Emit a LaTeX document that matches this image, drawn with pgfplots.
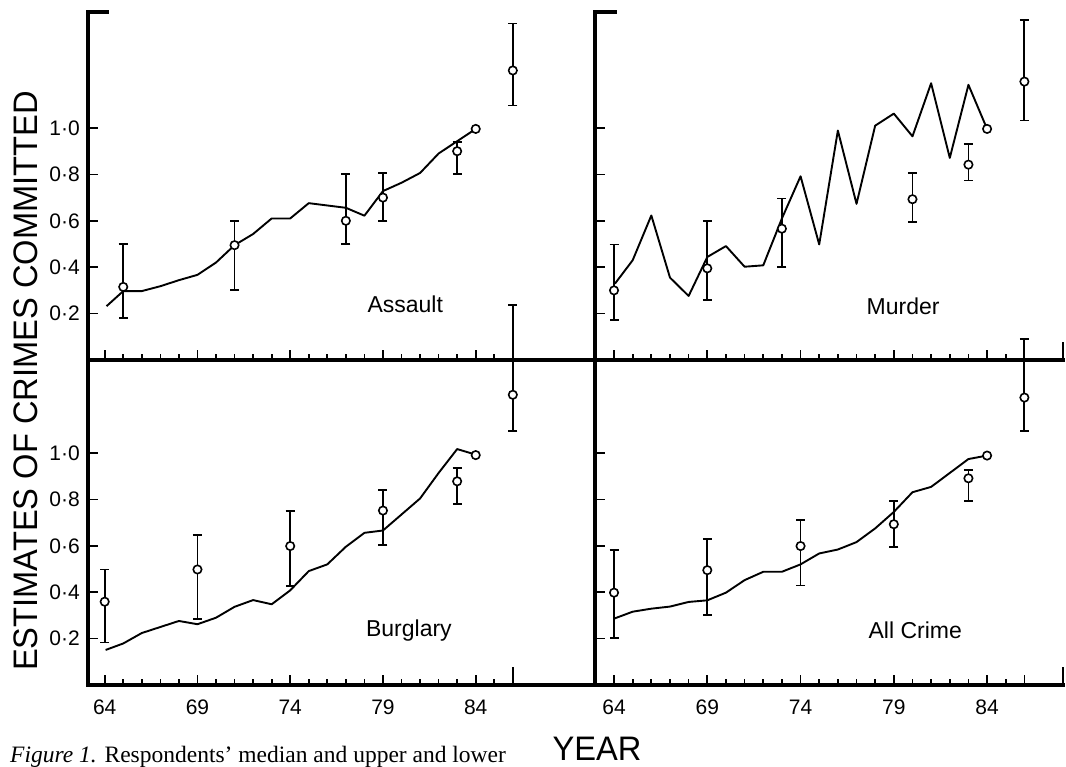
\documentclass[border=0pt]{standalone}
\usepackage{pgfplots}
\pgfplotsset{compat=1.18}
\usepackage{fontspec}
\setmainfont{Liberation Sans}
\newfontfamily\labfont[FakeStretch=0.96]{Liberation Sans}
\newfontfamily\capfont{Liberation Serif}
\begin{document}
\begin{tikzpicture}
\tikzset{plab/.style={font=\fontsize{23}{23}\selectfont, anchor=base, inner sep=0pt}}
\pgfplotsset{
  panel/.style={
    scale only axis,
    axis lines*=left,
    axis line style={line width=3.4pt, line cap=rect, -},
    clip=false,
    tick align=inside,
    major tick length=10pt,
    minor tick length=6pt,
    tick style={black, line width=1.7pt},
    xtick={64,69,74,79,84,86},
    minor xtick={65,66,67,68,70,71,72,73,75,76,77,78,80,81,82,83,85},
    ytick={0.2,0.4,0.6,0.8,1.0},
    ymin=0,
    xticklabels={},
    yticklabels={},
    ticklabel style={font=\fontsize{21}{21}\selectfont, inner sep=0pt},
    /pgf/number format/assume math mode=true,
  },
  leftp/.style={width=507pt, xmin=63.1, xmax=90.43},
  rightp/.style={width=468pt, xmin=62.98, xmax=88.07},
  topp/.style={height=348pt, ymax=1.5},
  botp/.style={height=325pt, ymax=1.401},
  ylab/.style={yticklabels={0·2,0·4,0·6,0·8,1·0}, yticklabel style={anchor=east, xshift=-8pt}},
  xlab/.style={xticklabels={64,69,74,79,84,{}}, xticklabel style={anchor=north, yshift=-15pt}},
  crime/.style={black, line width=1.9pt, line join=round, mark=none},
  dot/.style={only marks, mark=*, mark size=4.2pt, mark options={fill=white, draw=black, line width=1.6pt}},
  est/.style={dot, error bars/.cd, y dir=both, y explicit,
     error bar style={line width=1.8pt, black},
     error mark=-,
     error mark options={rotate=90, line width=1.8pt, mark size=4.5pt, black}},
}

% ---------------- Assault (top left)
\begin{axis}[panel, leftp, topp, ylab, name=tl, at={(88pt,407pt)}, anchor=south west]
\addplot[crime] coordinates {
(64.1,0.232) (65,0.297) (66,0.297) (67,0.318) (68,0.344) (69,0.367) (70,0.42)
(71,0.495) (72,0.543) (73,0.61) (74,0.61) (75,0.676) (76,0.666) (77,0.656)
(78,0.622) (79,0.728) (80,0.764) (81,0.806) (82,0.89) (83,0.943) (84,0.996)};
\addplot[est] table[x=x, y=y, y error plus=ep, y error minus=em] {
x y ep em
65 0.315 0.185 0.135
71 0.495 0.105 0.195
77 0.600 0.200 0.100
79 0.700 0.105 0.100
83 0.900 0.040 0.100
86 1.248 0.202 0.151
};
\addplot[dot] coordinates {(84,0.996)};
\node[plab] at (axis cs:80.2,0.204) {Assault};
\end{axis}

% ---------------- Murder (top right)
\begin{axis}[panel, rightp, topp, name=tr, at={(595pt,407pt)}, anchor=south west]
\addplot[crime] coordinates {
(64.05,0.329) (65,0.43) (66,0.623) (67,0.355) (68,0.276) (69,0.444) (70,0.491)
(71,0.402) (72,0.408) (73,0.61) (74,0.792) (75,0.498) (76,0.989) (77,0.673)
(78,1.01) (79,1.062) (80,0.964) (81,1.193) (82,0.871) (83,1.186) (84,0.996)};
\addplot[est] table[x=x, y=y, y error plus=ep, y error minus=em] {
x y ep em
64 0.300 0.198 0.127
69 0.395 0.204 0.138
73 0.566 0.130 0.166
80 0.693 0.113 0.097
83 0.842 0.089 0.068
86 1.200 0.266 0.168
};
\addplot[dot] coordinates {(84,0.996)};
\node[plab] at (axis cs:79.5,0.197) {Murder};
\end{axis}

% ---------------- Burglary (bottom left)
\begin{axis}[panel, leftp, botp, ylab, xlab, name=bl, at={(88pt,82pt)}, anchor=south west]
\addplot[crime] coordinates {
(64.05,0.151) (65,0.179) (66,0.224) (67,0.25) (68,0.276) (69,0.262) (70,0.29)
(71,0.337) (72,0.366) (73,0.348) (74,0.408) (75,0.491) (76,0.52) (77,0.596)
(78,0.656) (79,0.666) (80,0.735) (81,0.804) (82,0.914) (83,1.017) (84,0.993)};
\addplot[est] table[x=x, y=y, y error plus=ep, y error minus=em] {
x y ep em
64 0.359 0.139 0.176
69 0.498 0.147 0.215
74 0.599 0.150 0.172
79 0.752 0.089 0.149
83 0.878 0.057 0.097
86 1.251 0.387 0.155
};
\addplot[dot] coordinates {(84,0.991)};
\node[plab] at (axis cs:80.4,0.207) {Burglary};
\coordinate (t86) at (axis cs:86,0);
\end{axis}

% ---------------- All Crime (bottom right)
\begin{axis}[panel, rightp, botp, xlab, name=br, at={(595pt,82pt)}, anchor=south west]
\addplot[crime] coordinates {
(64,0.286) (65,0.316) (66,0.329) (67,0.338) (68,0.358) (69,0.365) (70,0.398)
(71,0.452) (72,0.488) (73,0.488) (74,0.52) (75,0.567) (76,0.584) (77,0.616)
(78,0.675) (79,0.746) (80,0.831) (81,0.854) (82,0.914) (83,0.974) (84,0.989)};
\addplot[est] table[x=x, y=y, y error plus=ep, y error minus=em] {
x y ep em
64 0.398 0.183 0.194
69 0.495 0.135 0.195
74 0.599 0.111 0.170
79 0.693 0.099 0.097
83 0.891 0.037 0.099
86 1.239 0.254 0.143
};
\addplot[dot] coordinates {(84,0.989)};
\node[plab] at (axis cs:80.15,0.200) {All Crime};
\end{axis}

% frame caps
\draw[line width=3.4pt, line cap=rect] (tl.north west) -- ++(19pt,0);
\draw[line width=3.4pt, line cap=rect] (tr.north west) -- ++(20pt,0);
\draw[line width=2.4pt] (tr.south east) -- ++(0,18pt);
\draw[line width=2.4pt] (br.south east) -- ++(0,18pt);
\draw[line width=1.7pt] (t86) -- ++(0,18pt);

% texts
\node[rotate=90, font=\labfont\fontsize{34}{34}\selectfont, inner sep=0pt] at (26pt,386pt) {ESTIMATES OF CRIMES COMMITTED};
\node[anchor=base, font=\labfont\fontsize{34}{34}\selectfont, inner sep=0pt] at (597pt,6pt) {YEAR};
\node[anchor=base west, inner sep=0pt, font=\capfont\fontsize{23.5}{23.5}\selectfont] at (10pt,4pt) {\textit{Figure 1.} Respondents’ median and upper and lower};

\pgfresetboundingbox
\useasboundingbox (0,0) rectangle (1066pt,767pt);
\end{tikzpicture}
\end{document}
